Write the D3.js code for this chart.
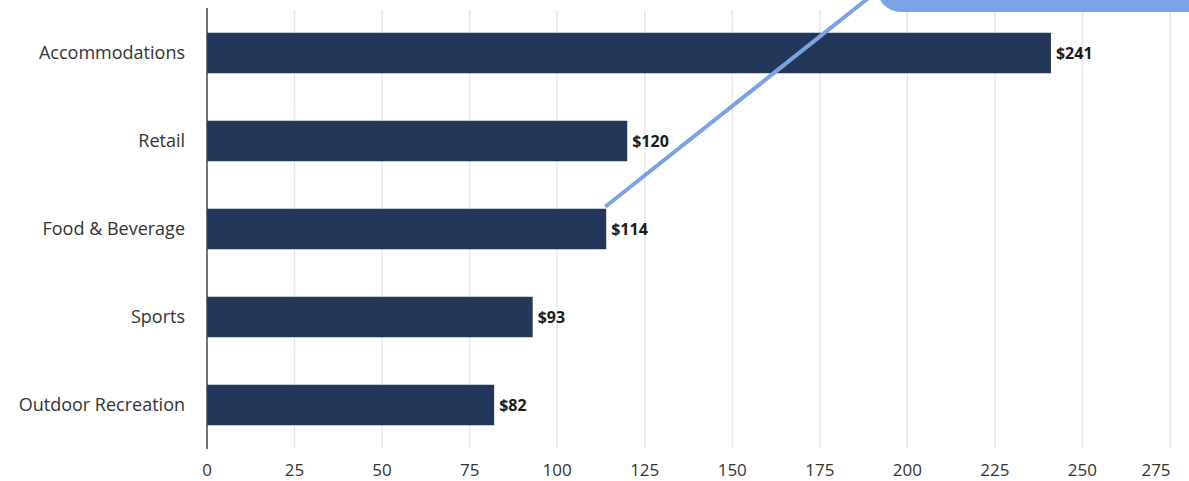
<!DOCTYPE html>
<html>
<head>
<meta charset="utf-8">
<script src="https://cdn.jsdelivr.net/npm/d3@7"></script>
<style>
  body { margin: 0; background: #fff; }
  svg { display: block; font-family: "Open Sans", sans-serif; }
</style>
</head>
<body>
<div id="chart"></div>
<script>
// Spending by category, in dollars.
const categories = ["Accommodations", "Retail", "Food & Beverage", "Sports", "Outdoor Recreation"];
const values = [241, 120, 114, 93, 82];
const xTicks = [0, 25, 50, 75, 100, 125, 150, 175, 200, 225, 250, 275];

// Callout line is drawn from the end of this bar up to the box.
const calloutCategory = "Food & Beverage";

const width = 1189, height = 481;

const svg = d3.select("#chart").append("svg")
    .attr("width", width)
    .attr("height", height);

const x = d3.scaleLinear()
    .domain([0, 275])
    .range([207, 1170]);

const y = d3.scaleBand()
    .domain(categories)
    .range([9, 449])
    .paddingInner(0.54)
    .paddingOuter(0.27);

// Grid lines
svg.append("g")
    .selectAll("line")
    .data(xTicks.slice(1))
    .join("line")
    .attr("x1", d => x(d))
    .attr("x2", d => x(d))
    .attr("y1", 10)
    .attr("y2", 448)
    .attr("stroke", "#e6e6e6")
    .attr("stroke-width", 1.5);

// Bars
svg.append("g")
    .selectAll("rect")
    .data(values)
    .join("rect")
    .attr("x", x(0))
    .attr("y", (d, i) => y(categories[i]))
    .attr("width", d => x(d) - x(0))
    .attr("height", y.bandwidth())
    .attr("fill", "#22375a");

// Value labels
svg.append("g")
    .selectAll("text")
    .data(values)
    .join("text")
    .attr("x", d => x(d) + 5)
    .attr("y", (d, i) => y(categories[i]) + y.bandwidth() / 2)
    .attr("dy", "0.35em")
    .attr("font-size", 16)
    .attr("font-weight", "bold")
    .attr("fill", "#1a1a1a")
    .text(d => "$" + d);

// Category labels
svg.append("g")
    .selectAll("text")
    .data(categories)
    .join("text")
    .attr("x", 185)
    .attr("y", d => y(d) + y.bandwidth() / 2)
    .attr("dy", "0.35em")
    .attr("text-anchor", "end")
    .attr("font-size", 18)
    .attr("fill", "#333")
    .text(d => d);

// x tick labels (the last one is pulled in so it fits)
svg.append("g")
    .selectAll("text")
    .data(xTicks)
    .join("text")
    .attr("x", d => d === 275 ? x(d) - 14 : x(d))
    .attr("y", 476)
    .attr("text-anchor", "middle")
    .attr("font-size", 17)
    .attr("fill", "#333")
    .text(d => d);

// y axis line
svg.append("line")
    .attr("x1", x(0))
    .attr("x2", x(0))
    .attr("y1", 8)
    .attr("y2", 449)
    .attr("stroke", "#444")
    .attr("stroke-width", 1.5);

// Callout box, mostly off the top of the picture
const calloutIdx = categories.indexOf(calloutCategory);
svg.append("rect")
    .attr("x", 877)
    .attr("y", -60)
    .attr("width", 400)
    .attr("height", 72)
    .attr("rx", 24)
    .attr("fill", "#7ba3e3");

svg.append("line")
    .attr("x1", x(values[calloutIdx]) - 1)
    .attr("y1", y(calloutCategory) - 2)
    .attr("x2", 876)
    .attr("y2", -8)
    .attr("stroke", "#7ba3e3")
    .attr("stroke-width", 4);
</script>
</body>
</html>
